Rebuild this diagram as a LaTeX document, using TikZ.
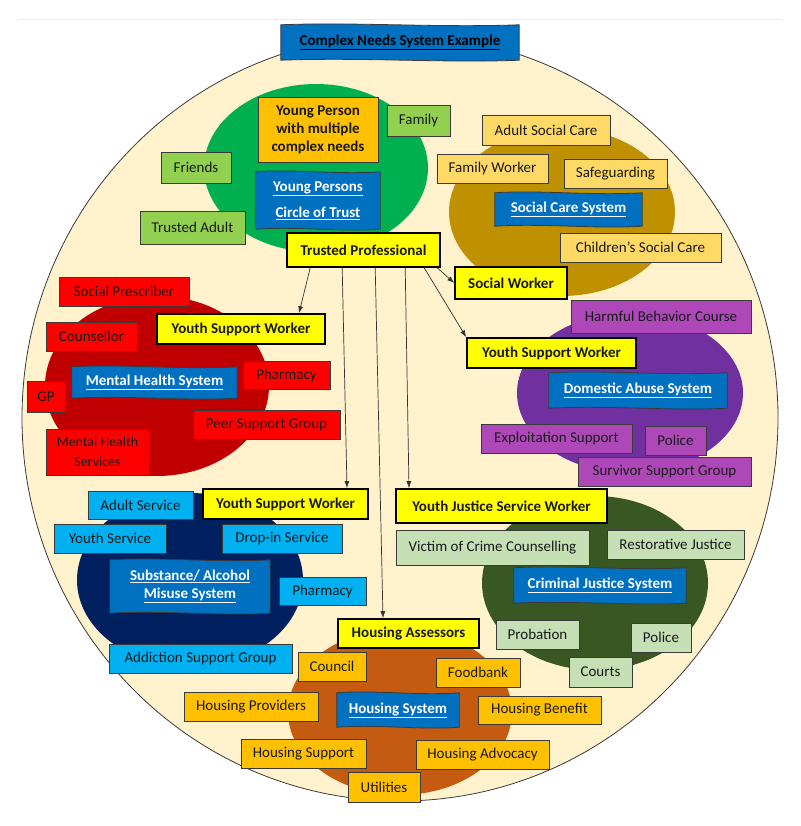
\documentclass[tikz,border=0pt]{standalone}
\usepackage{fontspec}
\setmainfont{Carlito}
\usetikzlibrary{calc,arrows.meta}
\pgfdeclarelayer{bg}
\pgfdeclarelayer{wave}
\pgfsetlayers{bg,wave,main}
\definecolor{beige}{HTML}{FFF2CC}
\definecolor{boxline}{HTML}{3A3A3A}
\definecolor{sysblue}{HTML}{0070C0}
\definecolor{gcirc}{HTML}{00B050}
\definecolor{orangebox}{HTML}{FFC000}
\definecolor{lgreen}{HTML}{92D050}
\definecolor{ybox}{HTML}{FFFF00}
\definecolor{sccirc}{HTML}{BF9000}
\definecolor{scbox}{HTML}{FFD966}
\definecolor{mhcirc}{HTML}{C00000}
\definecolor{mhbox}{HTML}{FF0000}
\definecolor{dacirc}{HTML}{7030A0}
\definecolor{dabox}{HTML}{AE48B8}
\definecolor{sacirc}{HTML}{002060}
\definecolor{sabox}{HTML}{00B0F0}
\definecolor{cjcirc}{HTML}{385723}
\definecolor{cjbox}{HTML}{C5E0B4}
\definecolor{hocirc}{HTML}{C55A11}
\definecolor{arrowc}{HTML}{333333}
\tikzset{
  box/.style={draw=boxline, line width=0.8pt, inner sep=0pt, align=center, text=black!90, font=\fontsize{15}{18}\selectfont},
  yelbox/.style={box, fill=ybox, draw=black, line width=1.6pt, font=\bfseries\fontsize{15}{18}\selectfont},
  sysbox/.style={inner sep=0pt, align=center, text=white, font=\bfseries\fontsize{15}{18}\selectfont},
  wav/.style={fill=sysblue, draw=boxline, line width=0.8pt},
  arr/.style={draw=arrowc, line width=0.7pt, -{Latex[length=7pt,width=5pt]}}
}
\newcommand\Bx[6]{\node[#1, minimum width=#4pt, minimum height=#5pt] (#2) at (#3) {#6};}
\begin{document}
\begin{tikzpicture}[x=1pt,y=-1pt]
\useasboundingbox (0,0) rectangle (800,826);
\begin{pgfonlayer}{bg}
\fill[white] (0,0) rectangle (800,826);
\draw[gray!15, line width=0.8pt] (18,19) -- (782,19);
\draw[fill=beige, draw=boxline, line width=0.8pt] (400,418) ellipse [x radius=378, y radius=383];
\fill[gcirc] (316,168) ellipse [x radius=112, y radius=84];
\fill[sccirc] (562,212) ellipse [x radius=113, y radius=84];
\fill[mhcirc] (157,386) ellipse [x radius=112, y radius=90];
\fill[dacirc] (630,393) ellipse [x radius=113, y radius=80];
\fill[sacirc] (190,580) ellipse [x radius=113, y radius=87];
\fill[cjcirc] (595,583) ellipse [x radius=113, y radius=87];
\fill[hocirc] (400,712) ellipse [x radius=112, y radius=83];
\end{pgfonlayer}

% title
\node[sysbox, text=black, minimum width=238pt, minimum height=35pt] (title) at (400,42.5) {\underline{Complex Needs System Example}};

% circle of trust
\Bx{box, fill=orangebox, font=\bfseries\fontsize{15}{27}\selectfont}{ypn}{318,129.5}{120}{65}{Young Person\\[-9pt]with multiple\\[-9pt]complex needs}
\Bx{sysbox}{ctrust}{318,200.5}{124}{57}{\underline{Young Persons}\\[8pt]\underline{Circle of Trust}}
\Bx{box, fill=lgreen}{family}{418.5,120.5}{63}{31}{Family}
\Bx{box, fill=lgreen}{friends}{196,167.5}{70}{31}{Friends}
\Bx{box, fill=lgreen}{tadult}{192.5,227.5}{105}{33}{Trusted Adult}
\Bx{yelbox}{tprof}{363.5,250}{153}{34}{Trusted Professional}

% social care
\Bx{box, fill=scbox}{asc}{546,130}{128}{30}{Adult Social Care}
\Bx{box, fill=scbox}{fworker}{492.5,168.5}{111}{29}{Family Worker}
\Bx{box, fill=scbox}{safeg}{615.5,173.5}{103}{29}{Safeguarding}
\Bx{sysbox}{scs}{568.5,209.5}{147}{33}{\underline{Social Care System}}
\Bx{box, fill=scbox}{csc}{640.5,247.5}{161}{29}{Children’s Social Care}
\Bx{yelbox}{sworker}{511,283}{112}{32}{Social Worker}

% mental health
\Bx{box, fill=mhbox}{sp}{124,291.5}{130}{29}{Social Prescriber}
\Bx{box, fill=mhbox}{couns}{91.5,336.5}{91}{29}{Counsellor}
\Bx{yelbox}{ysw1}{241,329}{168}{30}{Youth Support Worker}
\Bx{sysbox}{mhs}{154.5,382.5}{165}{31}{\underline{Mental Health System}}
\Bx{box, fill=mhbox}{pharm1}{286.5,375}{87}{28}{Pharmacy}
\Bx{box, fill=mhbox}{gp}{46,396.5}{38}{31}{GP}
\Bx{box, fill=mhbox}{psg}{266.5,424.5}{147}{29}{Peer Support Group}
\Bx{box, fill=mhbox, font=\fontsize{14}{20}\selectfont}{mhserv}{97.5,452}{103}{46}{Mental Health\\Services}

% domestic abuse
\Bx{box, fill=dabox}{hbc}{661,316.5}{180}{33}{Harmful Behavior Course}
\Bx{yelbox}{ysw2}{551.5,353}{169}{30}{Youth Support Worker}
\Bx{sysbox}{das}{638,390.5}{178}{35}{\underline{Domestic Abuse System}}
\Bx{box, fill=dabox}{expl}{556.5,438.5}{151}{29}{Exploitation Support}
\Bx{box, fill=dabox}{police1}{675.5,440.5}{61}{29}{Police}
\Bx{box, fill=dabox}{ssg}{664.5,471.5}{173}{29}{Survivor Support Group}

% substance
\Bx{box, fill=sabox}{adserv}{140.5,505}{105}{28}{Adult Service}
\Bx{yelbox}{ysw3}{285.5,504}{165}{30}{Youth Support Worker}
\Bx{box, fill=sabox}{ysserv}{110,538.5}{112}{29}{Youth Service}
\Bx{box, fill=sabox}{dropin}{282,538.5}{120}{29}{Drop-in Service}
\Bx{sysbox}{sams}{190,586.5}{160}{53}{\underline{Substance/ Alcohol}\\\underline{Misuse System}}
\Bx{box, fill=sabox}{pharm2}{322.5,591}{87}{28}{Pharmacy}
\Bx{box, fill=sabox}{asg}{200.5,658.5}{183}{29}{Addiction Support Group}

% criminal justice
\Bx{yelbox}{yjsw}{501.5,506}{211}{34}{Youth Justice Service Worker}
\Bx{box, fill=cjbox}{vocc}{492.5,547.5}{193}{35}{Victim of Crime Counselling}
\Bx{box, fill=cjbox}{rj}{675.5,544.5}{137}{29}{Restorative Justice}
\Bx{sysbox}{cjs}{600,585.5}{172}{35}{\underline{Criminal Justice System}}
\Bx{box, fill=cjbox}{prob}{537.5,634.5}{83}{29}{Probation}
\Bx{box, fill=cjbox}{police2}{661,637.5}{60}{29}{Police}
\Bx{box, fill=cjbox}{courts}{600.5,672}{63}{30}{Courts}

% housing
\Bx{yelbox}{ha}{408.5,633.5}{141}{29}{Housing Assessors}
\Bx{box, fill=orangebox}{council}{332,666.5}{68}{29}{Council}
\Bx{box, fill=orangebox}{foodbank}{478,672.5}{84}{29}{Foodbank}
\Bx{box, fill=orangebox}{hp}{251,706.5}{134}{29}{Housing Providers}
\Bx{sysbox}{hs}{398,710}{122}{34}{\underline{Housing System}}
\Bx{box, fill=orangebox}{hb}{539.5,710}{123}{28}{Housing Benefit}
\Bx{box, fill=orangebox}{hsup}{303.5,753.5}{125}{29}{Housing Support}
\Bx{box, fill=orangebox}{hadv}{482.5,754.5}{133}{29}{Housing Advocacy}
\Bx{box, fill=orangebox}{util}{384,787}{72}{30}{Utilities}

% wavy system boxes
\begin{pgfonlayer}{wave}
\foreach \n in {title,ctrust,scs,mhs,das,sams,cjs,hs}{
  \draw[wav] (\n.north west)
    .. controls ($(\n.north west)!0.3!(\n.north east)+(0,-3)$) and ($(\n.north west)!0.65!(\n.north east)+(0,3)$) .. (\n.north east)
    -- (\n.south east)
    .. controls ($(\n.south east)!0.3!(\n.south west)+(0,3)$) and ($(\n.south east)!0.65!(\n.south west)+(0,-3)$) .. (\n.south west)
    -- cycle;
}
\end{pgfonlayer}

% connectors
\draw[arr] ($(tprof.south west)+(24,0)$) -- ($(ysw1.north)+(58,0)$);
\draw[arr] ($(tprof.south west)+(56,0)$) -- ($(ysw3.north)+(61.5,0)$);
\draw[arr] ($(tprof.south west)+(89,0)$) -- ($(ha.north)+(-25.5,0)$);
\draw[arr] ($(tprof.south west)+(119,0)$) -- ($(yjsw.north)+(-92.5,0)$);
\draw[arr] ($(tprof.south west)+(138,0)$) -- (ysw2.north west);
\draw[arr] ($(tprof.south west)+(151,0)$) -- (sworker.west);
\end{tikzpicture}
\end{document}
